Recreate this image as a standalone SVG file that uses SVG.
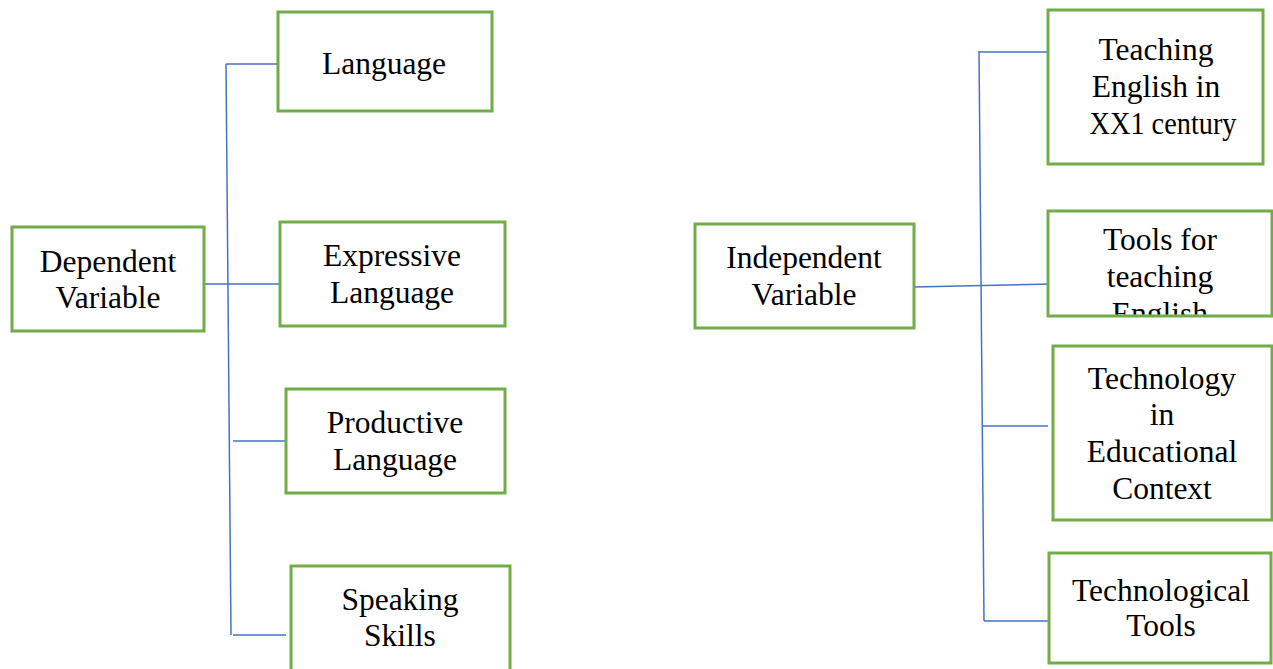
<svg xmlns="http://www.w3.org/2000/svg" width="1273" height="669" viewBox="0 0 1273 669">
<style>
.box{fill:#fff;stroke:#70AD47;stroke-width:3}
.t{font-family:"Liberation Serif","Times New Roman",serif;font-size:31.5px;fill:#000;text-anchor:middle}
.c{stroke:#4472C4;stroke-width:1.5;fill:none}
</style>
<defs>
<clipPath id="clipTools"><rect x="1049.5" y="212.5" width="221" height="102"/></clipPath>
</defs>
<rect width="1273" height="669" fill="#fff"/>
<g id="connectors">
<path class="c" d="M226 64 L231 635"/>
<path class="c" d="M226 64 H278"/>
<path class="c" d="M204 284 H280"/>
<path class="c" d="M233 441 H286"/>
<path class="c" d="M233 635 H286"/>
<path class="c" d="M979 51 L984 621"/>
<path class="c" d="M979 52 H1048"/>
<path class="c" d="M914 287 L1051 284"/>
<path class="c" d="M983 426 H1048"/>
<path class="c" d="M984 621 H1049"/>
</g>
<g id="dependent">
<rect class="box" x="12" y="227" width="192" height="104"/>
<text class="t" x="108" y="272">Dependent</text>
<text class="t" x="108" y="308">Variable</text>
</g>
<g id="language">
<rect class="box" x="278" y="12" width="214" height="99"/>
<text class="t" x="384" y="74">Language</text>
</g>
<g id="expressive">
<rect class="box" x="280" y="222" width="225" height="104"/>
<text class="t" x="392" y="266">Expressive</text>
<text class="t" x="392" y="303">Language</text>
</g>
<g id="productive">
<rect class="box" x="286" y="389" width="219" height="104"/>
<text class="t" x="395" y="433">Productive</text>
<text class="t" x="395" y="470">Language</text>
</g>
<g id="speaking">
<rect class="box" x="291" y="566" width="219" height="110"/>
<text class="t" x="400" y="610">Speaking</text>
<text class="t" x="400" y="646">Skills</text>
</g>
<g id="independent">
<rect class="box" x="695" y="224" width="219" height="104"/>
<text class="t" x="804" y="268">Independent</text>
<text class="t" x="804" y="305">Variable</text>
</g>
<g id="teaching">
<rect class="box" x="1048" y="10" width="215" height="154"/>
<text class="t" x="1156" y="60">Teaching</text>
<text class="t" x="1156" y="97">English in</text>
<text class="t" x="1163" y="134" textLength="147" lengthAdjust="spacingAndGlyphs">XX1 century</text>
</g>
<g id="tools">
<rect class="box" x="1048" y="211" width="224" height="105"/>
<g clip-path="url(#clipTools)">
<text class="t" x="1160" y="250">Tools for</text>
<text class="t" x="1160" y="287">teaching</text>
<text class="t" x="1160" y="324">English</text>
</g>
</g>
<g id="technology">
<rect class="box" x="1053" y="346" width="219" height="174"/>
<text class="t" x="1162" y="389">Technology</text>
<text class="t" x="1162" y="425">in</text>
<text class="t" x="1162" y="462">Educational</text>
<text class="t" x="1162" y="499">Context</text>
</g>
<g id="technological">
<rect class="box" x="1049" y="553" width="222" height="110"/>
<text class="t" x="1161" y="601">Technological</text>
<text class="t" x="1161" y="636">Tools</text>
</g>
</svg>
